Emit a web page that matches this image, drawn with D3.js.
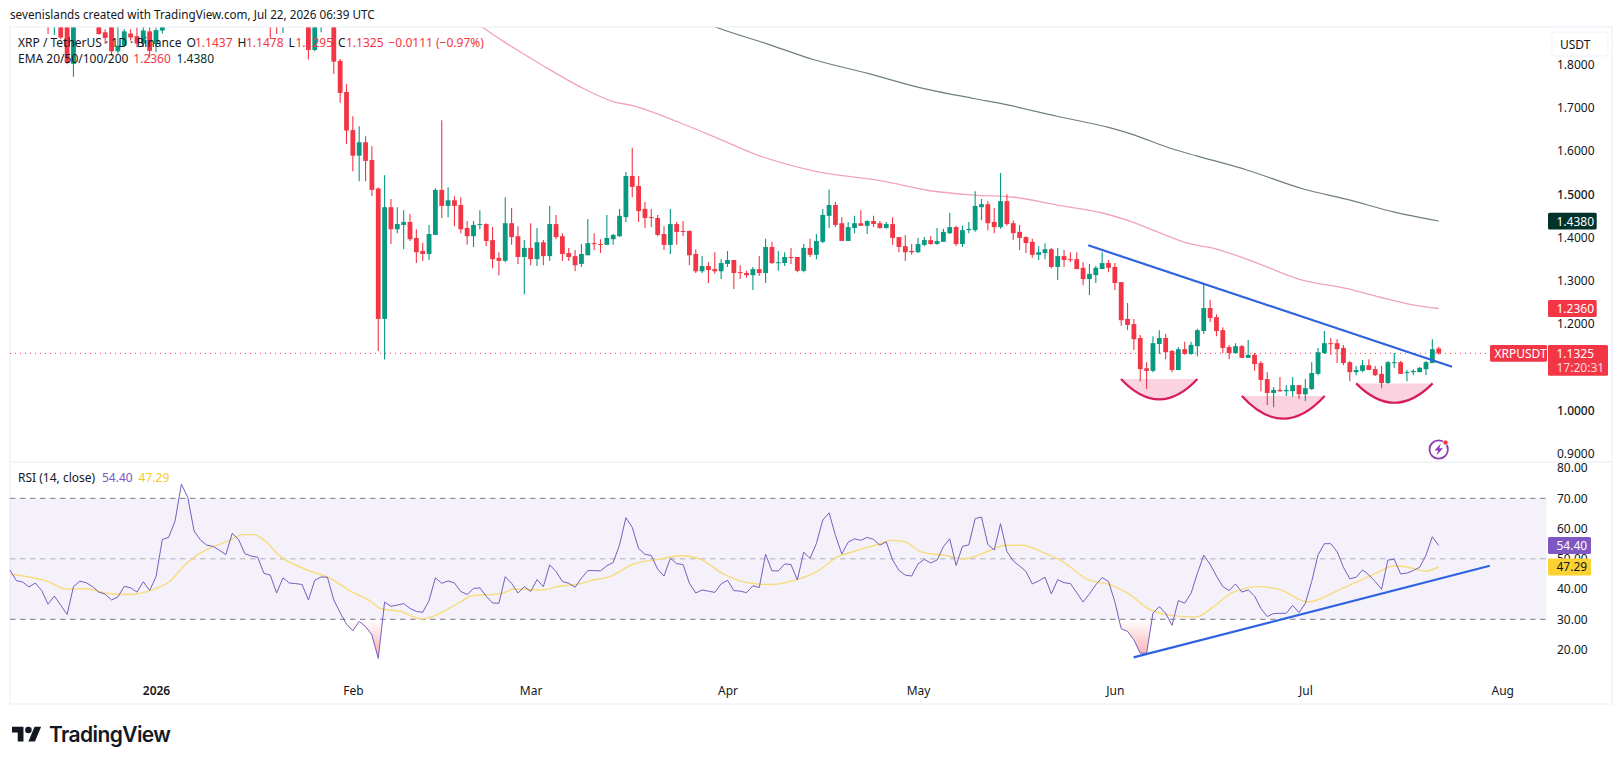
<!DOCTYPE html>
<html>
<head>
<meta charset="utf-8">
<title>XRP / TetherUS daily chart</title>
<script src="https://cdn.jsdelivr.net/npm/d3@7"></script>
<style>
  html, body { margin: 0; padding: 0; background: #fff; }
  svg { display: block; }
  text { font-family: "Noto Sans", "Liberation Sans", sans-serif; fill: #131722; }
</style>
</head>
<body>
<svg id="chart" width="1623" height="765"></svg>
<script>
// Day numbers count from 1 Jan 2026 (day 0).
const firstCandleDay = -17;
const opens = [
  1.93,1.905,1.925,1.90,1.801,1.93,1.95,1.94,1.91,1.874,
  1.90,1.830,1.843,1.871,1.865,1.848,1.876,1.847,1.878,1.905,
  2.00,2.09,2.36,2.28,2.14,2.09,2.07,2.06,2.05,2.04,
  2.15,2.10,2.07,2.06,2.05,2.00,1.93,1.90,1.95,1.93,
  1.92,1.91,1.833,1.90,1.92,1.91,1.808,1.736,1.648,1.589,
  1.620,1.579,1.513,1.212,
  1.470,1.419,1.429,1.436,1.399,1.369,1.362,1.406,1.510,1.473,1.486,1.475,1.422,1.403,1.429,1.431,1.394,1.353,1.346,1.433,1.403,1.355,1.376,1.350,1.389,1.357,1.431,1.403,1.364,1.357,1.339,1.359,1.387,1.385,1.383,1.396,1.403,1.447,1.542,1.519,1.466,1.447,1.445,1.408,1.383,1.431,1.415,1.415,1.362,1.322,1.334,1.327,1.322,1.339,1.348,
  1.320,1.318,1.313,1.327,1.318,1.378,1.341,1.341,1.355,1.355,1.323,1.376,1.360,1.390,1.450,1.475,1.433,1.392,1.422,1.433,1.427,1.438,1.433,1.422,1.431,1.401,1.380,1.369,1.366,1.383,1.394,1.385,1.390,1.410,1.424,1.385,1.417,1.417,1.470,1.477,1.436,1.424,1.484,1.433,1.413,1.401,1.390,1.360,1.364,1.373,1.332,1.357,1.350,1.350,
  1.330,1.304,1.313,1.327,1.341,1.332,1.297,1.212,1.200,1.168,1.098,1.092,1.154,1.168,1.138,1.094,1.142,1.131,1.149,1.184,1.237,1.216,1.186,1.147,1.133,1.149,1.122,1.129,1.110,1.073,1.041,1.048,1.045,1.045,1.059,1.038,1.050,1.085,1.133,1.156,1.156,1.145,1.112,1.089,1.092,1.105,1.096,1.085,1.064,1.110,1.112,1.087,1.089,1.089,1.096,1.110,1.1437
];
const highs = [
  1.96,1.95,1.94,1.92,1.95,1.97,1.98,1.96,1.93,1.881,
  1.92,1.893,1.881,1.881,1.885,1.89,1.89,1.885,1.93,2.02,
  2.11,2.41,2.38,2.30,2.16,2.12,2.10,2.09,2.07,2.18,
  2.17,2.12,2.10,2.08,2.06,2.02,1.96,1.97,1.97,1.95,
  1.94,1.93,1.92,1.94,1.94,1.92,1.812,1.754,1.680,1.657,
  1.634,1.611,1.516,1.544,
  1.489,1.470,1.463,1.454,1.419,1.388,1.429,1.514,1.671,1.516,1.495,1.493,1.438,1.438,1.463,1.433,1.424,1.366,1.493,1.468,1.426,1.394,1.433,1.422,1.394,1.473,1.452,1.410,1.376,1.371,1.385,1.443,1.410,1.396,1.452,1.408,1.466,1.551,1.607,1.542,1.482,1.466,1.452,1.426,1.466,1.436,1.438,1.417,1.373,1.357,1.343,1.366,1.350,1.369,1.348,
  1.336,1.323,1.332,1.357,1.397,1.390,1.369,1.366,1.376,1.355,1.385,1.397,1.408,1.466,1.510,1.482,1.447,1.436,1.450,1.463,1.440,1.450,1.438,1.436,1.447,1.401,1.406,1.385,1.399,1.401,1.403,1.422,1.420,1.457,1.427,1.427,1.436,1.507,1.489,1.484,1.468,1.549,1.500,1.440,1.429,1.403,1.397,1.380,1.387,1.376,1.376,1.371,1.366,1.366,
  1.343,1.339,1.334,1.366,1.348,1.341,1.297,1.249,1.212,1.175,1.112,1.172,1.186,1.177,1.140,1.147,1.159,1.159,1.189,1.293,1.256,1.223,1.193,1.152,1.156,1.152,1.163,1.133,1.115,1.089,1.055,1.078,1.059,1.078,1.059,1.073,1.112,1.145,1.184,1.168,1.165,1.152,1.115,1.103,1.117,1.119,1.103,1.103,1.115,1.133,1.115,1.094,1.096,1.101,1.115,1.165,1.1478
];
const lows = [
  1.870,1.868,1.858,1.80,1.771,1.90,1.91,1.90,1.868,1.847,
  1.82,1.825,1.84,1.855,1.84,1.84,1.816,1.828,1.871,1.90,
  1.99,2.07,2.25,2.11,2.06,2.05,2.04,2.03,2.02,2.03,
  2.08,2.05,2.05,2.04,1.98,1.861,1.870,1.872,1.90,1.90,
  1.895,1.811,1.83,1.874,1.895,1.778,1.711,1.616,1.553,1.530,
  1.530,1.496,1.138,1.118,
  1.385,1.410,1.373,1.392,1.341,1.346,1.348,1.406,1.445,1.447,1.426,1.410,1.383,1.378,1.419,1.380,1.329,1.313,1.343,1.383,1.339,1.269,1.336,1.334,1.336,1.346,1.396,1.346,1.346,1.322,1.332,1.359,1.371,1.364,1.383,1.383,1.401,1.436,1.493,1.436,1.422,1.424,1.403,1.371,1.362,1.383,1.403,1.336,1.318,1.318,1.295,1.316,1.304,1.332,1.281,
  1.304,1.307,1.279,1.311,1.295,1.339,1.323,1.334,1.339,1.320,1.320,1.355,1.350,1.387,1.422,1.424,1.392,1.392,1.410,1.427,1.408,1.424,1.420,1.420,1.383,1.366,1.346,1.360,1.364,1.380,1.383,1.383,1.390,1.408,1.380,1.378,1.410,1.413,1.440,1.417,1.410,1.420,1.427,1.394,1.371,1.364,1.353,1.348,1.350,1.329,1.302,1.332,1.343,1.327,
  1.290,1.267,1.295,1.327,1.320,1.279,1.196,1.186,1.140,1.068,1.050,1.089,1.131,1.119,1.089,1.094,1.129,1.129,1.126,1.177,1.205,1.172,1.133,1.119,1.131,1.122,1.122,1.092,1.045,1.013,1.008,1.043,1.034,1.032,1.027,1.022,1.048,1.082,1.131,1.129,1.110,1.105,1.068,1.082,1.089,1.094,1.080,1.052,1.062,1.099,1.085,1.068,1.082,1.089,1.082,1.110,1.1295
];
const closes = [
  1.905,1.925,1.862,1.804,1.93,1.95,1.94,1.91,1.870,1.861,
  1.830,1.843,1.876,1.862,1.848,1.878,1.831,1.879,1.905,2.00,
  2.09,2.36,2.28,2.14,2.09,2.07,2.06,2.05,2.04,2.15,
  2.10,2.07,2.06,2.05,2.00,1.93,1.90,1.95,1.93,1.92,
  1.91,1.833,1.90,1.92,1.91,1.806,1.734,1.647,1.589,1.620,
  1.577,1.510,1.212,1.470,
  1.419,1.431,1.436,1.396,1.366,1.362,1.408,1.510,1.473,1.486,1.473,1.419,1.403,1.429,1.431,1.392,1.350,1.346,1.433,1.401,1.355,1.376,1.350,1.389,1.357,1.431,1.401,1.362,1.355,1.336,1.362,1.387,1.385,1.383,1.399,1.406,1.450,1.542,1.517,1.461,1.445,1.445,1.406,1.383,1.431,1.413,1.413,1.359,1.322,1.334,1.325,1.322,1.341,1.348,1.318,
  1.318,1.313,1.327,1.318,1.378,1.341,1.343,1.355,1.353,1.323,1.376,1.360,1.392,1.452,1.475,1.429,1.392,1.424,1.433,1.427,1.438,1.431,1.422,1.431,1.399,1.378,1.366,1.366,1.385,1.394,1.385,1.392,1.413,1.424,1.385,1.417,1.420,1.473,1.477,1.433,1.424,1.484,1.431,1.410,1.399,1.387,1.360,1.366,1.373,1.332,1.357,1.348,1.348,1.327,
  1.304,1.316,1.330,1.341,1.330,1.295,1.209,1.198,1.165,1.096,1.092,1.156,1.168,1.135,1.094,1.142,1.131,1.152,1.186,1.237,1.214,1.184,1.145,1.133,1.149,1.122,1.129,1.108,1.071,1.041,1.048,1.045,1.048,1.059,1.038,1.052,1.087,1.135,1.156,1.154,1.142,1.110,1.089,1.094,1.105,1.094,1.082,1.064,1.112,1.112,1.085,1.089,1.092,1.099,1.112,1.142,1.1325
];
const changeLabel = "−0.0111 (−0.97%)";

// Moving averages on the price pane.
const emaFastDays = [50,51.45,54.7,60.7,66.8,72,75.2,82.5,88.3,94.6,103.5,114.5,121.9,128.8,135.1,141.9,149.2,152.9,158.2,162.9,166.6,172.3,180.2,187.6,192.8,198.1,202];
const emaFastValues = [1.90,1.885,1.853,1.799,1.748,1.714,1.704,1.665,1.630,1.591,1.554,1.530,1.508,1.498,1.493,1.475,1.456,1.440,1.410,1.385,1.375,1.347,1.303,1.282,1.262,1.244,1.236];
const emaSlowDays = [84,88.3,96.7,103.5,112.4,119.8,128.8,133.5,141.9,150.3,154,159.7,164,171.8,180.7,187.6,194.9,202];
const emaSlowValues = [1.91,1.885,1.845,1.811,1.778,1.748,1.721,1.708,1.680,1.653,1.637,1.606,1.588,1.556,1.512,1.488,1.459,1.438];

// RSI (14, close), one value per day.
const firstRsiDay = -23;
const rsiValues = [
  46.3,42.8,42.3,40.7,42.0,39.5,35.0,37.7,34.6,31.6,40.8,42.6,42.1,40.8,39.0,38.3,36.4,37.4,40.9,40.4,39.0,42.4,39.5,
  44.1,56.4,57.1,62.5,74.7,70.3,59.2,56.2,54.5,54.1,52.8,51.4,58.4,56.4,51.7,50.9,50.5,45.2,44.6,38.7,43.7,42.0,41.8,41.5,36.4,42.9,44.0,43.9,36.4,32.2,28.4,26.2,29.3,27.6,24.8,17.1,
  35.7,34.3,34.7,35.2,33.6,32.6,32.3,36.2,43.7,41.9,42.7,42.0,39.2,38.2,40.2,40.4,37.6,35.4,35.3,44.1,41.9,38.7,40.8,39.2,43.1,40.8,
  48.0,45.8,42.5,41.9,40.6,43.6,46.1,46.1,46.0,47.7,48.8,54.6,63.6,60.4,53.4,51.5,51.1,46.6,44.3,50.2,48.4,48.1,41.9,38.7,39.7,39.3,38.9,41.7,42.9,39.5,39.3,38.8,41.1,40.5,51.5,46.0,46.0,48.3,48.1,43.0,52.2,50.1,55.1,62.8,65.2,57.7,51.6,55.5,56.6,56.1,57.1,56.4,54.5,55.6,49.6,46.2,44.6,44.3,48.3,49.8,48.6,49.6,54.0,56.6,47.8,54.1,54.6,63.3,63.8,54.7,52.9,61.6,52.4,49.3,47.6,45.8,41.7,42.7,43.9,38.4,43.1,42.1,41.8,38.8,35.7,38.4,
  41.4,43.8,42.5,35.8,26.9,26.0,23.2,18.8,18.8,32.0,34.2,32.0,28.0,36.2,35.3,38.6,45.2,51.2,48.2,44.3,40.8,39.5,41.7,39.0,39.7,37.7,33.6,30.9,31.9,32.0,32.0,34.6,32.2,35.3,42.5,51.3,55.0,55.0,52.4,47.2,43.4,43.9,46.3,44.7,42.5,39.9,49.6,49.8,45.0,45.3,46.1,47.2,51.2,57.3,54.40
];
const rsiMaDays = [-22.9,-17.3,-14,-11.1,-7.7,-4.3,-0.95,2.1,4.7,6.9,11.4,13.7,15.4,17.05,19.3,23.8,27.2,30.5,33.9,35.3,38.7,41.8,43.2,48,49.7,54.2,56.4,60.9,63.6,66,68.3,71.7,75.1,79,83,85.8,89.2,93.7,97,101,104.3,107.2,110,113.9,115.6,117.8,120.6,124,127.4,130.2,133.6,136.4,139.8,142.4,146.9,150.3,153.1,156.2,159.9,163.8,166.7,169.5,173.8,176.9,181.4,186.5,189.3,192.1,195,197.2,200,202];
const rsiMaValues = [44.9,42.7,40.0,40.1,38.6,38.2,39.5,42.4,48.3,51.8,55.9,58.0,58.0,56.2,51.3,46.3,43.8,39.5,35.8,33.6,32.5,30.1,30.7,35.8,37.8,38.4,40.0,39.7,41.0,41.4,42.7,44.3,48.2,49.8,51.0,49.8,45.2,41.9,41.5,43.2,46.0,50.5,52.5,54.9,56.1,55.7,52.2,51.2,50.0,51.8,54.4,54.5,52.0,49.6,43.0,41.4,38.6,33.6,31.3,30.8,34.4,38.8,40.8,39.9,35.7,39.9,42.5,45.2,47.6,47.2,45.9,47.29];

// Hand-drawn annotations: two trend lines and three rounded "bowl" shapes.
const priceTrend = [[146.8, 1.382], [204.1, 1.1016]];
const rsiTrend = [[153.95, 17.4], [210.05, 47.7]];
const bowls = [
  { from: 151.97, to: 164.0, rim: 1.0731, bottom: 1.0261 },
  { from: 171.0, to: 184.04, rim: 1.0338, bottom: 0.9815 },
  { from: 189.0, to: 201.05, rim: 1.0631, bottom: 1.0184 }
];

// Axis ticks.
const priceTicks = [0.9, 1.0, 1.2, 1.3, 1.4, 1.5, 1.6, 1.7, 1.8];
const rsiTicks = [20, 30, 40, 50, 60, 70, 80];
const timeTickDays = [0, 31, 59, 90, 120, 151, 181, 212];
const timeTickLabels = ["2026", "Feb", "Mar", "Apr", "May", "Jun", "Jul", "Aug"];

const UP = "#089981", DOWN = "#F23645";
const lastClose = closes[closes.length - 1];
const lastRsi = rsiValues[rsiValues.length - 1];
const lastMa = rsiMaValues[rsiMaValues.length - 1];
const lastFast = emaFastValues[emaFastValues.length - 1];
const lastSlow = emaSlowValues[emaSlowValues.length - 1];

const x = d3.scaleLinear().domain([-23, 219]).range([9.95, 1546.65]);
const yP = d3.scaleLinear().domain([0.9, 1.8]).range([454, 64.3]);
const yR = d3.scaleLinear().domain([30, 70]).range([619.3, 498.3]);

const svg = d3.select("#chart");
const defs = svg.append("defs");
defs.append("clipPath").attr("id", "pricePane").append("rect")
  .attr("x", 10).attr("y", 27.5).attr("width", 1537).attr("height", 434);
defs.append("clipPath").attr("id", "belowThirty").append("rect")
  .attr("x", 10).attr("y", yR(30)).attr("width", 1537).attr("height", 60);
const grad = defs.append("linearGradient").attr("id", "oversold")
  .attr("gradientUnits", "userSpaceOnUse")
  .attr("x1", 0).attr("x2", 0).attr("y1", yR(30)).attr("y2", yR(17));
grad.append("stop").attr("offset", 0).attr("stop-color", DOWN).attr("stop-opacity", 0);
grad.append("stop").attr("offset", 1).attr("stop-color", DOWN).attr("stop-opacity", 0.42);

// Caption above the frame.
svg.append("text").attr("x", 10).attr("y", 19).attr("font-size", 11.7)
  .text("sevenislands created with TradingView.com, Jul 22, 2026 06:39 UTC");

// Frame and pane separator.
svg.append("rect").attr("x", 10).attr("y", 27).attr("width", 1602).attr("height", 677)
  .attr("fill", "none").attr("stroke", "#f0f3fa").attr("stroke-width", 1.5);
svg.append("line").attr("x1", 10).attr("x2", 1612).attr("y1", 462).attr("y2", 462)
  .attr("stroke", "#eef0f4").attr("stroke-width", 1.5);

// Price pane -----------------------------------------------------------------
const pane = svg.append("g").attr("clip-path", "url(#pricePane)");

pane.append("line").attr("x1", 10).attr("x2", 1547)
  .attr("y1", yP(lastClose)).attr("y2", yP(lastClose))
  .attr("stroke", DOWN).attr("stroke-width", 1).attr("stroke-dasharray", "1 4");

const emaLine = (days) => d3.line().x((d, i) => x(days[i])).y(d => yP(d)).curve(d3.curveMonotoneX);
pane.append("path").attr("d", emaLine(emaFastDays)(emaFastValues))
  .attr("fill", "none").attr("stroke", "#f1a4b6").attr("stroke-width", 1.3);
pane.append("path").attr("d", emaLine(emaSlowDays)(emaSlowValues))
  .attr("fill", "none").attr("stroke", "#6f807b").attr("stroke-width", 1.2);

const candles = opens.map((o, i) => ({
  day: firstCandleDay + i, o, h: highs[i], l: lows[i], c: closes[i]
}));
const candle = pane.selectAll("g.candle").data(candles).join("g").attr("class", "candle");
candle.append("line")
  .attr("x1", d => x(d.day)).attr("x2", d => x(d.day))
  .attr("y1", d => yP(d.h)).attr("y2", d => yP(d.l))
  .attr("stroke", d => d.c >= d.o ? UP : DOWN).attr("stroke-width", 1.1);
candle.append("rect")
  .attr("x", d => x(d.day) - 2.4).attr("width", 4.8)
  .attr("y", d => yP(Math.max(d.o, d.c)))
  .attr("height", d => Math.max(1, Math.abs(yP(d.o) - yP(d.c))))
  .attr("fill", d => d.c >= d.o ? UP : DOWN);

pane.selectAll("path.bowl").data(bowls).join("path").attr("class", "bowl")
  .attr("d", b => {
    const ctrl = yP(b.bottom) * 2 - yP(b.rim);
    return `M${x(b.from)},${yP(b.rim)}Q${x((b.from + b.to) / 2)},${ctrl} ${x(b.to)},${yP(b.rim)}Z`;
  })
  .attr("fill", "#e91e63").attr("fill-opacity", 0.2);
pane.selectAll("path.bowlEdge").data(bowls).join("path").attr("class", "bowlEdge")
  .attr("d", b => {
    const ctrl = yP(b.bottom) * 2 - yP(b.rim);
    return `M${x(b.from)},${yP(b.rim)}Q${x((b.from + b.to) / 2)},${ctrl} ${x(b.to)},${yP(b.rim)}`;
  })
  .attr("fill", "none").attr("stroke", "#d81b60").attr("stroke-width", 2.2);

pane.append("line")
  .attr("x1", x(priceTrend[0][0])).attr("y1", yP(priceTrend[0][1]))
  .attr("x2", x(priceTrend[1][0])).attr("y2", yP(priceTrend[1][1]))
  .attr("stroke", "#2f62e0").attr("stroke-width", 2.2);

// Alert badge near the last candle.
const badge = svg.append("g").attr("transform", `translate(${x(202)},449.5)`);
badge.append("circle").attr("r", 9.2).attr("fill", "none").attr("stroke", "#8e3fb8").attr("stroke-width", 1.8);
badge.append("path").attr("d", "M2.2,-6 L-4.2,1 L-0.6,1 L-2.2,6 L4.2,-1.2 L0.6,-1.2 Z").attr("fill", "#8e3fb8");
badge.append("circle").attr("cx", 6.8).attr("cy", -7).attr("r", 2.6).attr("fill", DOWN)
  .attr("stroke", "#fff").attr("stroke-width", 0.8);

// RSI pane -------------------------------------------------------------------
const rsiPane = svg.append("g");
rsiPane.append("rect").attr("x", 10).attr("y", yR(70)).attr("width", 1536.5)
  .attr("height", yR(30) - yR(70)).attr("fill", "#7e57c2").attr("fill-opacity", 0.085);
[[70, 1], [50, 0.55], [30, 1]].forEach(([level, opacity]) => {
  rsiPane.append("line").attr("x1", 10).attr("x2", 1546.5)
    .attr("y1", yR(level)).attr("y2", yR(level))
    .attr("stroke", "#787b86").attr("stroke-opacity", opacity).attr("stroke-dasharray", "5.5 4.5");
});
const rsiSeries = rsiValues.map((v, i) => ({ day: firstRsiDay + i, v }));
rsiPane.append("path")
  .attr("clip-path", "url(#belowThirty)")
  .attr("d", d3.area().x(d => x(d.day)).y0(yR(30)).y1(d => yR(d.v))(rsiSeries))
  .attr("fill", "url(#oversold)");
rsiPane.append("path")
  .attr("d", d3.line().x((d, i) => x(rsiMaDays[i])).y(d => yR(d)).curve(d3.curveMonotoneX)(rsiMaValues))
  .attr("fill", "none").attr("stroke", "#f7dc7d").attr("stroke-width", 1.4);
rsiPane.append("path")
  .attr("d", d3.line().x(d => x(d.day)).y(d => yR(d.v))(rsiSeries))
  .attr("fill", "none").attr("stroke", "#7460bd").attr("stroke-width", 1);
rsiPane.append("line")
  .attr("x1", x(rsiTrend[0][0])).attr("y1", yR(rsiTrend[0][1]))
  .attr("x2", x(rsiTrend[1][0])).attr("y2", yR(rsiTrend[1][1]))
  .attr("stroke", "#2f62e0").attr("stroke-width", 2.2);

// Axes -----------------------------------------------------------------------
const styleAxis = (g) => {
  g.select(".domain").remove();
  g.selectAll(".tick line").remove();
  g.selectAll(".tick text").attr("font-size", 12).attr("fill", "#131722");
};
svg.append("g").attr("transform", "translate(1557,0)")
  .call(d3.axisRight(yP).tickValues(priceTicks).tickFormat(d3.format(".4f")).tickSize(0).tickPadding(0))
  .call(styleAxis)
  .selectAll(".tick text").attr("font-weight", d => (d === 1 || d === 1.5) ? 500 : 400);
svg.append("g").attr("transform", "translate(1557,0)")
  .call(d3.axisRight(yR).tickValues(rsiTicks).tickFormat(d3.format(".2f")).tickSize(0).tickPadding(0))
  .call(styleAxis);
svg.append("g").attr("transform", "translate(0,686)")
  .call(d3.axisBottom(x).tickValues(timeTickDays).tickFormat((d, i) => timeTickLabels[i]).tickSize(0).tickPadding(0))
  .call(styleAxis)
  .selectAll(".tick text").attr("font-weight", (d, i) => i === 0 ? 600 : 400);

// Price and indicator tags on the axis.
function tag(left, width, top, height, fill, lines) {
  const g = svg.append("g");
  g.append("rect").attr("x", left).attr("y", top).attr("width", width).attr("height", height)
    .attr("rx", 1.5).attr("fill", fill);
  lines.forEach(l => {
    g.append("text").attr("x", l.x).attr("y", l.y).attr("font-size", 12).attr("dominant-baseline", "central")
      .style("fill", l.fill || "#fff").text(l.text);
  });
}
tag(1548, 48.7, yP(lastSlow) - 8.4, 16.8, "#00332a", [{ x: 1556.5, y: yP(lastSlow), text: lastSlow.toFixed(4) }]);
tag(1548, 48.7, yP(lastFast) - 8.4, 16.8, DOWN, [{ x: 1556.5, y: yP(lastFast), text: lastFast.toFixed(4) }]);
tag(1490, 57, yP(lastClose) - 8.4, 16.8, DOWN, [{ x: 1494.5, y: yP(lastClose), text: "XRPUSDT" }]);
tag(1548, 60, yP(lastClose) - 8.4, 30.8, DOWN, [
  { x: 1556.5, y: yP(lastClose), text: lastClose.toFixed(4) },
  { x: 1556.5, y: yP(lastClose) + 14.4, text: "17:20:31", fill: "#ffd9dc" }
]);
tag(1548, 43, yR(lastRsi) - 8.6, 17, "#7e57c2", [{ x: 1556.5, y: yR(lastRsi), text: lastRsi.toFixed(2) }]);
tag(1548, 43, yR(lastMa) - 8.6, 17, "#fbd233", [{ x: 1556.5, y: yR(lastMa), text: lastMa.toFixed(2), fill: "#131722" }]);

// Currency button.
svg.append("rect").attr("x", 1552).attr("y", 32).attr("width", 56).attr("height", 24).attr("rx", 3)
  .attr("fill", "#fff").attr("stroke", "#f0f3fa");
svg.append("text").attr("x", 1560).attr("y", 44.5).attr("font-size", 12)
  .attr("dominant-baseline", "central").text("USDT");

// Legends --------------------------------------------------------------------
function legend(y, parts) {
  parts.forEach(p => {
    svg.append("text").attr("x", p.x).attr("y", y).attr("font-size", 12)
      .attr("dominant-baseline", "central").style("fill", p.fill || "#131722").text(p.text);
  });
}
legend(42, [
  { x: 18, text: "XRP / TetherUS · 1D · Binance" },
  { x: 186.5, text: "O" }, { x: 195, text: opens[opens.length - 1].toFixed(4), fill: DOWN },
  { x: 237.5, text: "H" }, { x: 246, text: highs[highs.length - 1].toFixed(4), fill: DOWN },
  { x: 288.5, text: "L" }, { x: 295.5, text: lows[lows.length - 1].toFixed(4), fill: DOWN },
  { x: 338, text: "C" }, { x: 346, text: lastClose.toFixed(4), fill: DOWN },
  { x: 388.5, text: changeLabel, fill: DOWN }
]);
legend(58.7, [
  { x: 18, text: "EMA 20/50/100/200" },
  { x: 133.3, text: lastFast.toFixed(4), fill: DOWN },
  { x: 176.5, text: lastSlow.toFixed(4), fill: "#00332a" }
]);
legend(477.7, [
  { x: 18, text: "RSI (14, close)" },
  { x: 102, text: lastRsi.toFixed(2), fill: "#7e57c2" },
  { x: 138.6, text: lastMa.toFixed(2), fill: "#f5c92e" }
]);

// Wordmark in the bottom-left corner.
const mark = svg.append("g").attr("transform", "translate(12,723.4) scale(0.82)");
mark.append("path").attr("d", "M14 22H7V11H0V4h14v18zM28 22h-8l7.5-18h8L28 22z").attr("fill", "#131722");
mark.append("circle").attr("cx", 20).attr("cy", 8).attr("r", 4).attr("fill", "#131722");
svg.append("text").attr("x", 49).attr("y", 741.5).attr("font-size", 21).attr("font-weight", 600)
  .style("font-family", "Inter, sans-serif").style("letter-spacing", "-0.6px").text("TradingView");
</script>
</body>
</html>
